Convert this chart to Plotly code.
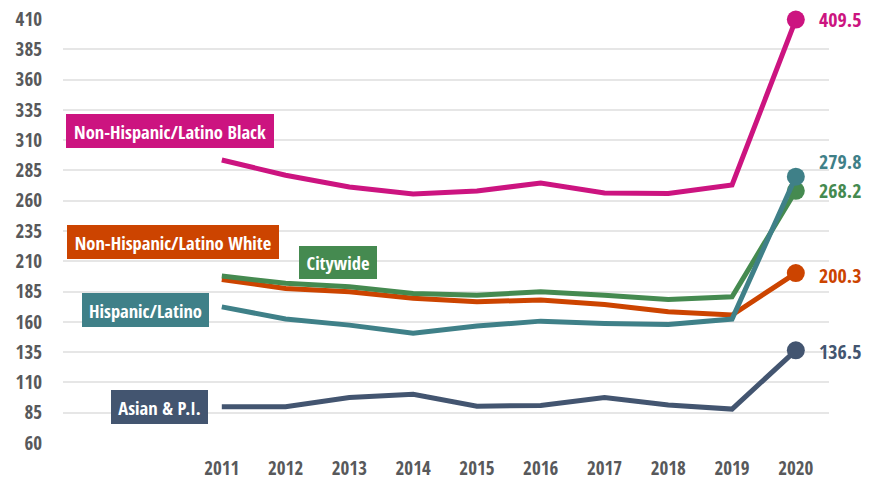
import plotly.graph_objects as go

years = [2011, 2012, 2013, 2014, 2015, 2016, 2017, 2018, 2019, 2020]
black = [293.6, 281.0, 271.3, 265.5, 268.0, 274.6, 266.3, 266.0, 273.0, 409.5]
hispanic = [172.4, 162.3, 157.3, 150.7, 156.5, 160.6, 158.7, 157.9, 162.3, 279.8]
citywide = [197.8, 191.8, 189.0, 183.5, 182.0, 184.8, 182.0, 178.5, 180.7, 268.2]
white = [195.0, 187.6, 184.8, 179.4, 176.6, 178.0, 174.4, 168.3, 165.6, 200.3]
asian = [89.9, 90.0, 97.6, 100.3, 90.4, 91.0, 97.6, 91.3, 88.0, 136.5]
y_ticks = [60, 85, 110, 135, 160, 185, 210, 235, 260, 285, 310, 335, 360, 385, 410]

series = [
    ("Non-Hispanic/Latino Black", black, "#CC1480"),
    ("Non-Hispanic/Latino White", white, "#CC4400"),
    ("Citywide", citywide, "#458A50"),
    ("Hispanic/Latino", hispanic, "#3F8088"),
    ("Asian & P.I.", asian, "#435570"),
]

FONT = "Open Sans Condensed, Roboto Condensed, sans-serif"

fig = go.Figure()
for name, vals, color in series:
    fig.add_trace(go.Scatter(
        x=years, y=vals, mode="lines", name=name,
        line=dict(color=color, width=5), cliponaxis=False, showlegend=False,
    ))
    fig.add_trace(go.Scatter(
        x=[years[-1]], y=[vals[-1]], mode="markers",
        marker=dict(color=color, size=18), cliponaxis=False, showlegend=False,
    ))

# pixel helpers for label placement
X0, X1, XR0, XR1 = 63, 829, 2008.51, 2020.52
Y0, Y1 = 19, 443
def px_x(p):
    return XR0 + (p - X0) / (X1 - X0) * (XR1 - XR0)
def px_y(p):
    return 410 - (p - Y0) / (Y1 - Y0) * 350

# text, center x, center y, box width, box height (pixels)
boxes = [
    ("Non-Hispanic/Latino Black", 170, 131, 208, 34, "#CC1480"),
    ("Non-Hispanic/Latino White", 173, 242, 212, 34, "#CC4400"),
    ("Citywide", 338, 262.5, 78, 33, "#458A50"),
    ("Hispanic/Latino", 145.5, 310, 127, 34, "#3F8088"),
    ("Asian & P.I.", 159.5, 407, 97, 34, "#435570"),
]
for text, cx, cy, w, h, color in boxes:
    fig.add_annotation(
        x=px_x(cx), y=px_y(cy), text="<b>" + text + "</b>", showarrow=False,
        font=dict(family=FONT, size=18.5, color="white"),
        bgcolor=color, borderpad=1, borderwidth=0, width=w - 2, height=h - 2,
        xanchor="center", yanchor="middle", align="center", valign="middle",
    )

end_shift = {"Non-Hispanic/Latino Black": 0, "Hispanic/Latino": 15,
             "Citywide": 0, "Non-Hispanic/Latino White": -2, "Asian & P.I.": -1}
for name, vals, color in series:
    fig.add_annotation(
        x=years[-1], y=vals[-1], text="<b>%.1f</b>" % vals[-1], showarrow=False,
        xanchor="left", yanchor="middle", xshift=21, yshift=end_shift[name],
        font=dict(family=FONT, size=20, color=color),
    )

fig.update_layout(
    width=874, height=481,
    margin=dict(l=63, r=45, t=19, b=38),
    paper_bgcolor="white", plot_bgcolor="white",
    font=dict(family=FONT, size=19, color="#58595B"),
    xaxis=dict(range=[XR0, XR1], tickmode="array", tickvals=years,
               ticktext=["<b>%d</b>" % y for y in years],
               showgrid=False, zeroline=False, showline=False, ticks="",
               ticklabelstandoff=12, automargin=False),
    yaxis=dict(range=[60, 410], tickmode="array", tickvals=y_ticks,
               ticktext=["<b>%d</b>" % t for t in y_ticks],
               showgrid=True, gridcolor="#E6E6E6", gridwidth=2,
               zeroline=False, showline=False, ticks="",
               ticklabelstandoff=20, automargin=False),
)

fig.write_html("out.html", config={"displayModeBar": False},
               post_script="document.body.style.margin='0';")
